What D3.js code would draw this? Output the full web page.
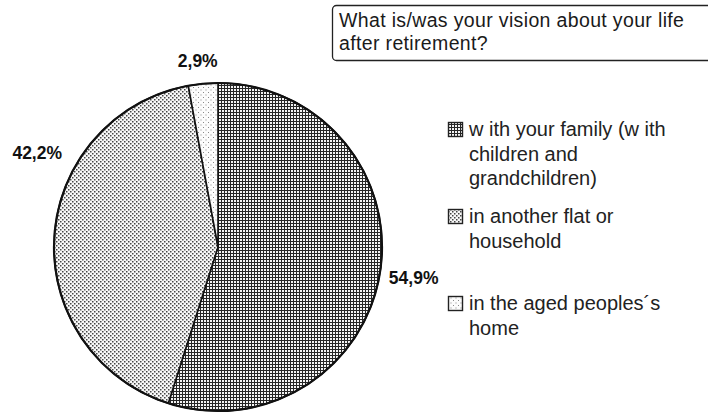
<!DOCTYPE html>
<html>
<head>
<meta charset="utf-8">
<script src="https://cdn.jsdelivr.net/npm/d3@7"></script>
<style>
  html, body { margin: 0; padding: 0; background: #fff; }
  svg { display: block; }
  text { font-family: Arial, "Liberation Sans", sans-serif; }
</style>
</head>
<body>
<svg id="chart" width="708" height="419"></svg>
<script>
// Survey answers, clockwise from twelve o'clock
const categories = [
  ["w ith your family (w ith", "children and", "grandchildren)"],
  ["in another flat or", "household"],
  ["in the aged peoples\u00b4s", "home"]
];
const shares = [54.9, 42.2, 2.9];
const valueLabels = ["54,9%", "42,2%", "2,9%"];
const titleLines = ["What is/was your vision about your life", "after retirement?"];

const svg = d3.select("#chart");
const cx = 218, cy = 247, R = 164;

// Fill textures: dense grid, medium dots, sparse dots
const defs = svg.append("defs");
const grid = defs.append("pattern").attr("id", "p0")
  .attr("patternUnits", "userSpaceOnUse").attr("width", 3).attr("height", 3);
grid.append("rect").attr("width", 3).attr("height", 3).attr("fill", "#f4f4f4");
grid.append("rect").attr("x", 0).attr("y", 0).attr("width", 3).attr("height", 1).attr("fill", "#262626");
grid.append("rect").attr("x", 0).attr("y", 0).attr("width", 1).attr("height", 3).attr("fill", "#262626");

const dots = defs.append("pattern").attr("id", "p1")
  .attr("patternUnits", "userSpaceOnUse").attr("width", 4).attr("height", 4);
dots.append("rect").attr("width", 4).attr("height", 4).attr("fill", "#f8f8f8");
dots.append("rect").attr("x", 0).attr("y", 0).attr("width", 1.5).attr("height", 1.5).attr("fill", "#444");
dots.append("rect").attr("x", 2).attr("y", 2).attr("width", 1.5).attr("height", 1.5).attr("fill", "#444");

const sparse = defs.append("pattern").attr("id", "p2")
  .attr("patternUnits", "userSpaceOnUse").attr("width", 5).attr("height", 5);
sparse.append("rect").attr("width", 5).attr("height", 5).attr("fill", "#fcfcfc");
sparse.append("rect").attr("x", 0).attr("y", 0).attr("width", 1).attr("height", 1).attr("fill", "#888");
sparse.append("rect").attr("x", 2.5).attr("y", 2.5).attr("width", 1).attr("height", 1).attr("fill", "#888");

const fills = ["url(#p0)", "url(#p1)", "url(#p2)"];

const pie = d3.pie().sort(null).value(d => d)
  .startAngle(0).endAngle(2 * Math.PI);
const arcs = pie(shares);
const arc = d3.arc().innerRadius(0).outerRadius(R);

const g = svg.append("g").attr("transform", `translate(${cx},${cy})`);
g.selectAll("path.slice").data(arcs).enter().append("path")
  .attr("class", "slice")
  .attr("d", arc)
  .attr("fill", (d, i) => fills[i])
  .attr("stroke", "#111")
  .attr("stroke-width", 1.6)
  .attr("stroke-linejoin", "round");

// outer rim drawn a bit heavier
g.append("circle").attr("r", R).attr("fill", "none")
  .attr("stroke", "#111").attr("stroke-width", 2.2);

// Percentage labels sit outside the rim; angle nudges keep them clear of the legend
const labelPlace = [
  { turn: 0, r: 198 },
  { turn: 24, r: 204 },
  { turn: -1, r: 187 }
];
g.selectAll("text.pct").data(arcs).enter().append("text")
  .attr("class", "pct")
  .each(function (d, i) {
    const mid = (d.startAngle + d.endAngle) / 2 + labelPlace[i].turn * Math.PI / 180;
    const rr = labelPlace[i].r;
    d3.select(this)
      .attr("x", rr * Math.sin(mid))
      .attr("y", -rr * Math.cos(mid))
      .attr("dy", "0.36em");
  })
  .attr("text-anchor", "middle")
  .attr("font-size", 17.5)
  .attr("font-weight", "bold")
  .attr("fill", "#111")
  .text((d, i) => valueLabels[i]);

// Title box
const tb = svg.append("g");
tb.append("rect")
  .attr("x", 332.5).attr("y", 5.5).attr("width", 400).attr("height", 55)
  .attr("rx", 4).attr("fill", "#fff").attr("stroke", "#222").attr("stroke-width", 1.3);
tb.selectAll("text").data(titleLines).enter().append("text")
  .attr("x", 339)
  .attr("y", (d, i) => 27 + i * 23)
  .attr("font-size", 19.5)
  .attr("letter-spacing", 0.35)
  .attr("fill", "#1a1a1a")
  .text(d => d);

// Legend
const legendTop = 136, itemStep = 87, lineStep = 24.5;
const lg = svg.append("g");
const items = lg.selectAll("g.item").data(categories).enter().append("g")
  .attr("class", "item")
  .attr("transform", (d, i) => `translate(448,${legendTop + i * itemStep})`);
items.append("rect")
  .attr("x", 0.5).attr("y", -13.5).attr("width", 14).attr("height", 14)
  .attr("fill", (d, i) => fills[i])
  .attr("stroke", "#222").attr("stroke-width", 1.4);
items.each(function (lines) {
  d3.select(this).selectAll("text").data(lines).enter().append("text")
    .attr("x", 21)
    .attr("y", (d, j) => j * lineStep)
    .attr("font-size", 20)
    .attr("fill", "#222")
    .text(d => d);
});
</script>
</body>
</html>
